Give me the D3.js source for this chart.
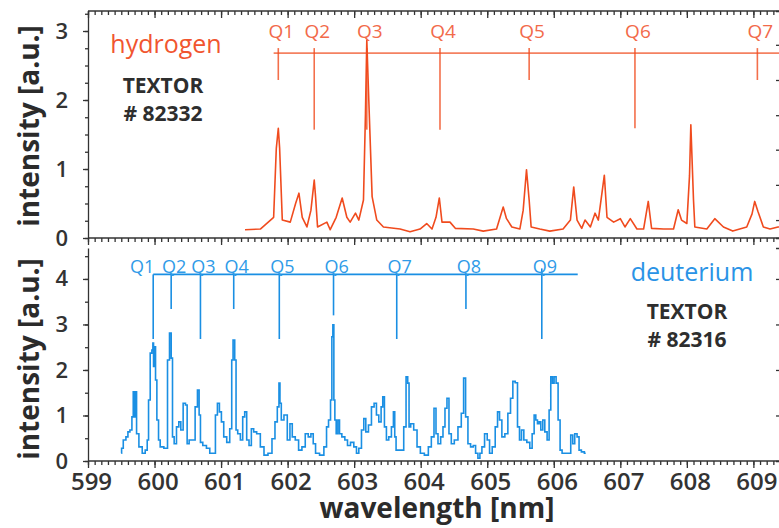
<!DOCTYPE html>
<html>
<head>
<meta charset="utf-8">
<script src="https://cdn.jsdelivr.net/npm/d3@7"></script>
<style>
  body { margin: 0; background: #fff; }
  svg { display: block; }
  .axis path, .axis line { stroke: #333; stroke-width: 1.3; }
  .axis text { fill: #333; font-family: 'Open Sans', sans-serif; font-weight: 600; }
</style>
</head>
<body>
<div id="chart"></div>
<script>
// wavelength [nm], intensity [a.u.]
const hydrogen = [
  [601.36,0.12],[601.59,0.13],[601.79,0.30],[601.83,1.30],[601.86,1.59],[601.88,1.30],[601.92,0.26],
  [602.04,0.23],[602.12,0.50],[602.17,0.65],[602.22,0.30],[602.29,0.16],[602.35,0.40],[602.40,0.84],
  [602.42,0.60],[602.45,0.16],[602.59,0.23],[602.64,0.12],[602.73,0.30],[602.82,0.58],[602.89,0.30],
  [602.94,0.23],[603.02,0.36],[603.07,0.26],[603.14,0.55],[603.17,1.80],[603.19,2.87],[603.22,2.00],
  [603.27,0.60],[603.34,0.26],[603.44,0.16],[603.69,0.13],[603.84,0.09],[603.99,0.13],[604.09,0.21],
  [604.17,0.13],[604.23,0.30],[604.28,0.58],[604.32,0.23],[604.44,0.23],[604.52,0.14],[604.79,0.13],
  [604.94,0.10],[605.14,0.13],[605.24,0.45],[605.29,0.28],[605.37,0.16],[605.49,0.13],[605.54,0.40],
  [605.59,0.99],[605.63,0.55],[605.66,0.16],[605.79,0.13],[605.94,0.10],[606.14,0.13],[606.25,0.26],
  [606.30,0.74],[606.35,0.26],[606.42,0.14],[606.47,0.26],[606.55,0.16],[606.62,0.36],[606.67,0.26],
  [606.76,0.91],[606.80,0.30],[606.90,0.23],[607.00,0.28],[607.07,0.16],[607.15,0.28],[607.25,0.13],
  [607.35,0.13],[607.42,0.53],[607.47,0.14],[607.65,0.13],[607.80,0.13],[607.87,0.41],[607.92,0.26],
  [608.00,0.21],[608.04,0.90],[608.06,1.64],[608.10,0.55],[608.12,0.16],[608.30,0.13],[608.42,0.28],
  [608.55,0.16],[608.69,0.10],[608.90,0.16],[608.98,0.35],[609.02,0.53],[609.07,0.38],[609.15,0.16],
  [609.25,0.13],[609.37,0.16],[609.47,0.15]
];

const deuterium = [
  [599.50,0.17],[599.51,0.28],[599.55,0.46],[599.59,0.53],[599.61,0.64],[599.65,0.68],[599.67,0.97],
  [599.69,1.52],[599.71,0.97],[599.72,1.52],[599.74,0.60],[599.79,0.31],[599.84,0.17],[599.88,0.24],
  [599.90,0.46],[599.92,1.34],[599.95,2.37],[599.97,2.44],[599.98,2.59],[599.99,2.08],[600.01,2.51],
  [600.02,1.78],[600.05,0.90],[600.07,0.46],[600.10,0.31],[600.18,0.28],[600.21,2.22],[600.24,2.81],
  [600.26,2.26],[600.28,0.53],[600.31,0.38],[600.35,0.75],[600.38,0.86],[600.41,0.68],[600.45,1.27],
  [600.48,1.23],[600.50,0.38],[600.54,0.46],[600.59,0.46],[600.63,1.19],[600.66,1.56],[600.68,1.01],
  [600.70,0.41],[600.75,0.34],[600.81,0.28],[600.85,0.17],[600.90,0.17],[600.93,1.01],[600.96,1.27],
  [600.99,1.08],[601.02,0.86],[601.06,0.53],[601.11,0.41],[601.15,0.71],[601.17,2.22],[601.19,2.66],
  [601.22,2.22],[601.23,0.68],[601.27,0.60],[601.31,0.46],[601.34,0.97],[601.37,1.08],[601.40,0.46],
  [601.44,0.34],[601.47,0.71],[601.51,0.64],[601.56,0.60],[601.62,0.31],[601.67,0.13],[601.74,0.17],
  [601.79,0.49],[601.83,0.86],[601.86,1.19],[601.88,1.71],[601.89,1.27],[601.92,0.90],[601.97,1.01],
  [602.02,0.46],[602.05,0.82],[602.09,0.53],[602.14,0.46],[602.19,0.24],[602.24,0.31],[602.29,0.60],
  [602.33,0.53],[602.37,0.60],[602.40,0.38],[602.44,0.17],[602.52,0.13],[602.57,0.31],[602.60,0.75],
  [602.63,0.90],[602.66,1.34],[602.67,2.73],[602.69,2.99],[602.70,1.34],[602.72,0.90],[602.74,0.60],
  [602.77,0.90],[602.79,0.60],[602.84,0.53],[602.88,0.46],[602.92,0.34],[602.97,0.41],[603.02,0.31],
  [603.05,0.17],[603.09,0.28],[603.13,0.68],[603.16,0.93],[603.19,0.64],[603.24,0.79],[603.28,1.19],
  [603.32,1.27],[603.35,1.01],[603.39,0.86],[603.42,1.19],[603.44,1.41],[603.47,0.75],[603.50,0.46],
  [603.54,0.53],[603.58,0.75],[603.60,1.08],[603.62,0.53],[603.64,0.24],[603.72,0.24],[603.77,0.75],
  [603.79,1.85],[603.82,1.71],[603.83,0.75],[603.87,0.82],[603.92,0.68],[603.97,0.31],[604.02,0.17],
  [604.09,0.13],[604.14,0.31],[604.18,0.53],[604.22,1.16],[604.24,0.60],[604.28,0.38],[604.32,0.53],
  [604.35,0.75],[604.38,1.16],[604.41,1.38],[604.44,0.60],[604.48,0.38],[604.53,0.46],[604.59,0.75],
  [604.63,1.05],[604.66,1.82],[604.69,0.97],[604.73,0.38],[604.77,0.31],[604.81,0.34],[604.84,0.17],
  [604.88,0.06],[604.90,0.17],[604.94,0.31],[604.98,0.60],[605.02,0.46],[605.05,0.17],[605.10,0.31],
  [605.14,0.75],[605.17,1.08],[605.20,0.90],[605.24,0.53],[605.29,0.60],[605.33,1.05],[605.37,1.38],
  [605.40,1.75],[605.44,1.72],[605.47,0.75],[605.50,0.46],[605.53,0.68],[605.57,0.46],[605.62,0.41],
  [605.66,0.28],[605.69,0.60],[605.72,1.01],[605.74,0.90],[605.77,0.82],[605.79,0.86],[605.82,0.68],
  [605.85,0.90],[605.88,0.64],[605.92,0.46],[605.94,1.12],[605.97,1.85],[605.99,1.71],[606.02,1.85],
  [606.05,1.71],[606.08,0.90],[606.11,0.24],[606.14,0.17],[606.24,0.17],[606.27,0.57],[606.30,0.38],
  [606.33,0.60],[606.37,0.53],[606.39,0.24],[606.44,0.20],[606.48,0.17]
];

// Q-branch line markers
const hQLabels = ['Q1', 'Q2', 'Q3', 'Q4', 'Q5', 'Q6', 'Q7'];
const hQWave = [601.86, 602.40, 603.19, 604.29, 605.63, 607.22, 609.06];
const hQLow = [2.29, 1.57, 1.57, 1.57, 2.29, 1.59, 2.29];
const hQBar = 2.68;
const hQBarStart = 601.79;

const dQLabels = ['Q1', 'Q2', 'Q3', 'Q4', 'Q5', 'Q6', 'Q7', 'Q8', 'Q9'];
const dQWave = [599.98, 600.25, 600.69, 601.19, 601.875, 602.69, 603.64, 604.68, 605.82];
const dQLow = [2.68, 3.34, 2.68, 3.34, 2.68, 3.2, 2.68, 3.34, 2.68];
const dQBar = 4.10;
const dQBarEnd = 606.36;

const xTicks = [599, 600, 601, 602, 603, 604, 605, 606, 607, 608, 609];
const yTicksTop = [0, 1, 2, 3];
const yTicksBottom = [0, 1, 2, 3, 4];
const rightTicksTop = [0.26, 0.77, 1.28, 1.78, 2.29, 2.8];
const rightTicksBottom = [1, 2, 3, 4];

const width = 779, height = 528;
const left = 88, right = 780;
const red = '#f04b1e', blue = '#1a8fe3';

const svg = d3.select('#chart').append('svg')
  .attr('width', width).attr('height', height);

const x = d3.scaleLinear().domain([599, 609.4]).range([left, right]);
const yTop = d3.scaleLinear().domain([0, 3.29]).range([238, 11]);
const yBot = d3.scaleLinear().domain([0, 4.68]).range([461, 248]);

const minorX = d3.range(5990, 6095, 1).map(v => v / 10);

svg.append('defs').selectAll('clipPath')
  .data([['clipTop', yTop], ['clipBot', yBot]])
  .join('clipPath')
  .attr('id', d => d[0])
  .append('rect')
  .attr('x', left).attr('width', right - left)
  .attr('y', d => d[1].range()[1] - 20)
  .attr('height', d => d[1].range()[0] - d[1].range()[1] + 20);

// horizontal axes: minor ticks every 0.1 nm, longer ticks at whole nm
function xEdge(y, withLabels) {
  const g = svg.append('g').attr('class', 'axis').attr('transform', `translate(0,${y})`);
  g.append('g')
    .call(d3.axisBottom(x).tickValues(minorX).tickSize(4).tickFormat(''))
    .call(s => s.select('.domain').remove());
  const major = g.append('g')
    .call(d3.axisBottom(x).tickValues(xTicks).tickSizeInner(7).tickSizeOuter(0)
      .tickPadding(5).tickFormat(withLabels ? d3.format('d') : ''));
  major.select('.domain').attr('d', `M${left},0H${right}`);
  major.selectAll('text').attr('font-size', 24).attr('dx', 3);
  return g;
}

function yEdge(scale, ticks, minorStep) {
  const hi = scale.domain()[1];
  const g = svg.append('g').attr('class', 'axis').attr('transform', `translate(${left},0)`);
  g.append('g')
    .call(d3.axisLeft(scale).tickValues(d3.range(0, hi, minorStep)).tickSize(3).tickFormat(''))
    .call(s => s.select('.domain').remove());
  const major = g.append('g')
    .call(d3.axisLeft(scale).tickValues(ticks).tickSizeInner(5).tickSizeOuter(0)
      .tickPadding(15).tickFormat(d3.format('d')));
  major.selectAll('text').attr('font-size', 22);
}

// right-hand ticks pointing inward
function rightTicks(scale, ticks) {
  svg.append('g').attr('class', 'axis').attr('transform', `translate(${right},0)`)
    .call(d3.axisLeft(scale).tickValues(ticks).tickSize(4).tickFormat(''));
}

// top panel frame
xEdge(yTop.range()[1], false);
xEdge(yTop(0), false);
yEdge(yTop, yTicksTop, 0.25);
rightTicks(yTop, rightTicksTop);

// bottom panel frame
xEdge(yBot(0), true);
yEdge(yBot, yTicksBottom, 0.5);
rightTicks(yBot, rightTicksBottom);

// top panel: hydrogen
const topG = svg.append('g').attr('clip-path', 'url(#clipTop)');
topG.append('line')
  .attr('x1', x(hQBarStart)).attr('x2', right + 5)
  .attr('y1', yTop(hQBar)).attr('y2', yTop(hQBar))
  .attr('stroke', red).attr('stroke-opacity', 0.7).attr('stroke-width', 1.6);
topG.selectAll('line.q')
  .data(hQWave)
  .join('line')
  .attr('class', 'q')
  .attr('x1', d => x(d)).attr('x2', d => x(d))
  .attr('y1', yTop(hQBar) - 5)
  .attr('y2', (d, i) => yTop(hQLow[i]))
  .attr('stroke', red).attr('stroke-opacity', 0.8).attr('stroke-width', 1.6);
topG.append('path')
  .datum(hydrogen)
  .attr('fill', 'none').attr('stroke', red).attr('stroke-width', 1.6)
  .attr('stroke-linejoin', 'round')
  .attr('d', d3.line().x(d => x(d[0])).y(d => yTop(d[1])));
svg.append('g').selectAll('text')
  .data(hQLabels)
  .join('text')
  .attr('x', (d, i) => x(hQWave[i]) + 3)
  .attr('y', 38)
  .attr('text-anchor', 'middle')
  .attr('font-family', 'Open Sans, sans-serif')
  .attr('font-size', 19)
  .attr('fill', '#f26a4a')
  .text(d => d);

// bottom panel: deuterium
const botG = svg.append('g').attr('clip-path', 'url(#clipBot)');
botG.append('line')
  .attr('x1', x(dQWave[0])).attr('x2', x(dQBarEnd))
  .attr('y1', yBot(dQBar)).attr('y2', yBot(dQBar))
  .attr('stroke', blue).attr('stroke-width', 1.6);
botG.selectAll('line.q')
  .data(dQWave)
  .join('line')
  .attr('class', 'q')
  .attr('x1', d => x(d)).attr('x2', d => x(d))
  .attr('y1', (d, i) => yBot(dQBar) - (i === dQWave.length - 1 ? 6 : 0))
  .attr('y2', (d, i) => yBot(dQLow[i]))
  .attr('stroke', blue).attr('stroke-width', 1.6);
botG.append('path')
  .datum(deuterium)
  .attr('fill', 'none').attr('stroke', blue).attr('stroke-width', 1.6)
  .attr('d', d3.line().curve(d3.curveStep).x(d => x(d[0])).y(d => yBot(d[1])));
svg.append('g').selectAll('text')
  .data(dQLabels)
  .join('text')
  .attr('x', (d, i) => x(dQWave[i]) + (i === 0 ? 1 : 3))
  .attr('y', yBot(dQBar) - 1)
  .attr('text-anchor', (d, i) => i === 0 ? 'end' : 'middle')
  .attr('font-family', 'Open Sans, sans-serif')
  .attr('font-size', 18)
  .attr('fill', '#2f9be8')
  .text(d => d);

// annotations
const note = (txt, px, py, size, fill, weight) => svg.append('text')
  .attr('x', px).attr('y', py).attr('text-anchor', 'middle')
  .attr('font-family', 'Open Sans, sans-serif')
  .attr('font-size', size).attr('font-weight', weight).attr('fill', fill)
  .text(txt);
note('hydrogen', 166, 53, 25, '#f1552f', 400);
note('TEXTOR', 163, 93, 21, '#2e2e2e', 700);
note('# 82332', 163, 121, 21, '#2e2e2e', 700);
note('deuterium', 692, 281, 25, '#2a93e6', 400);
note('TEXTOR', 687, 319, 21, '#2e2e2e', 700);
note('# 82316', 687, 347, 21, '#2e2e2e', 700);

// axis titles
const title = (txt, px, py, rot) => svg.append('text')
  .attr('transform', `translate(${px},${py}) rotate(${rot})`)
  .attr('text-anchor', 'middle')
  .attr('font-family', 'Open Sans, sans-serif')
  .attr('font-size', 28).attr('font-weight', 700).attr('fill', '#2b2b2b')
  .text(txt);
title('intensity [a.u.]', 39, 126, -90);
title('intensity [a.u.]', 39, 359, -90);
title('wavelength [nm]', 437, 518, 0);
</script>
</body>
</html>
